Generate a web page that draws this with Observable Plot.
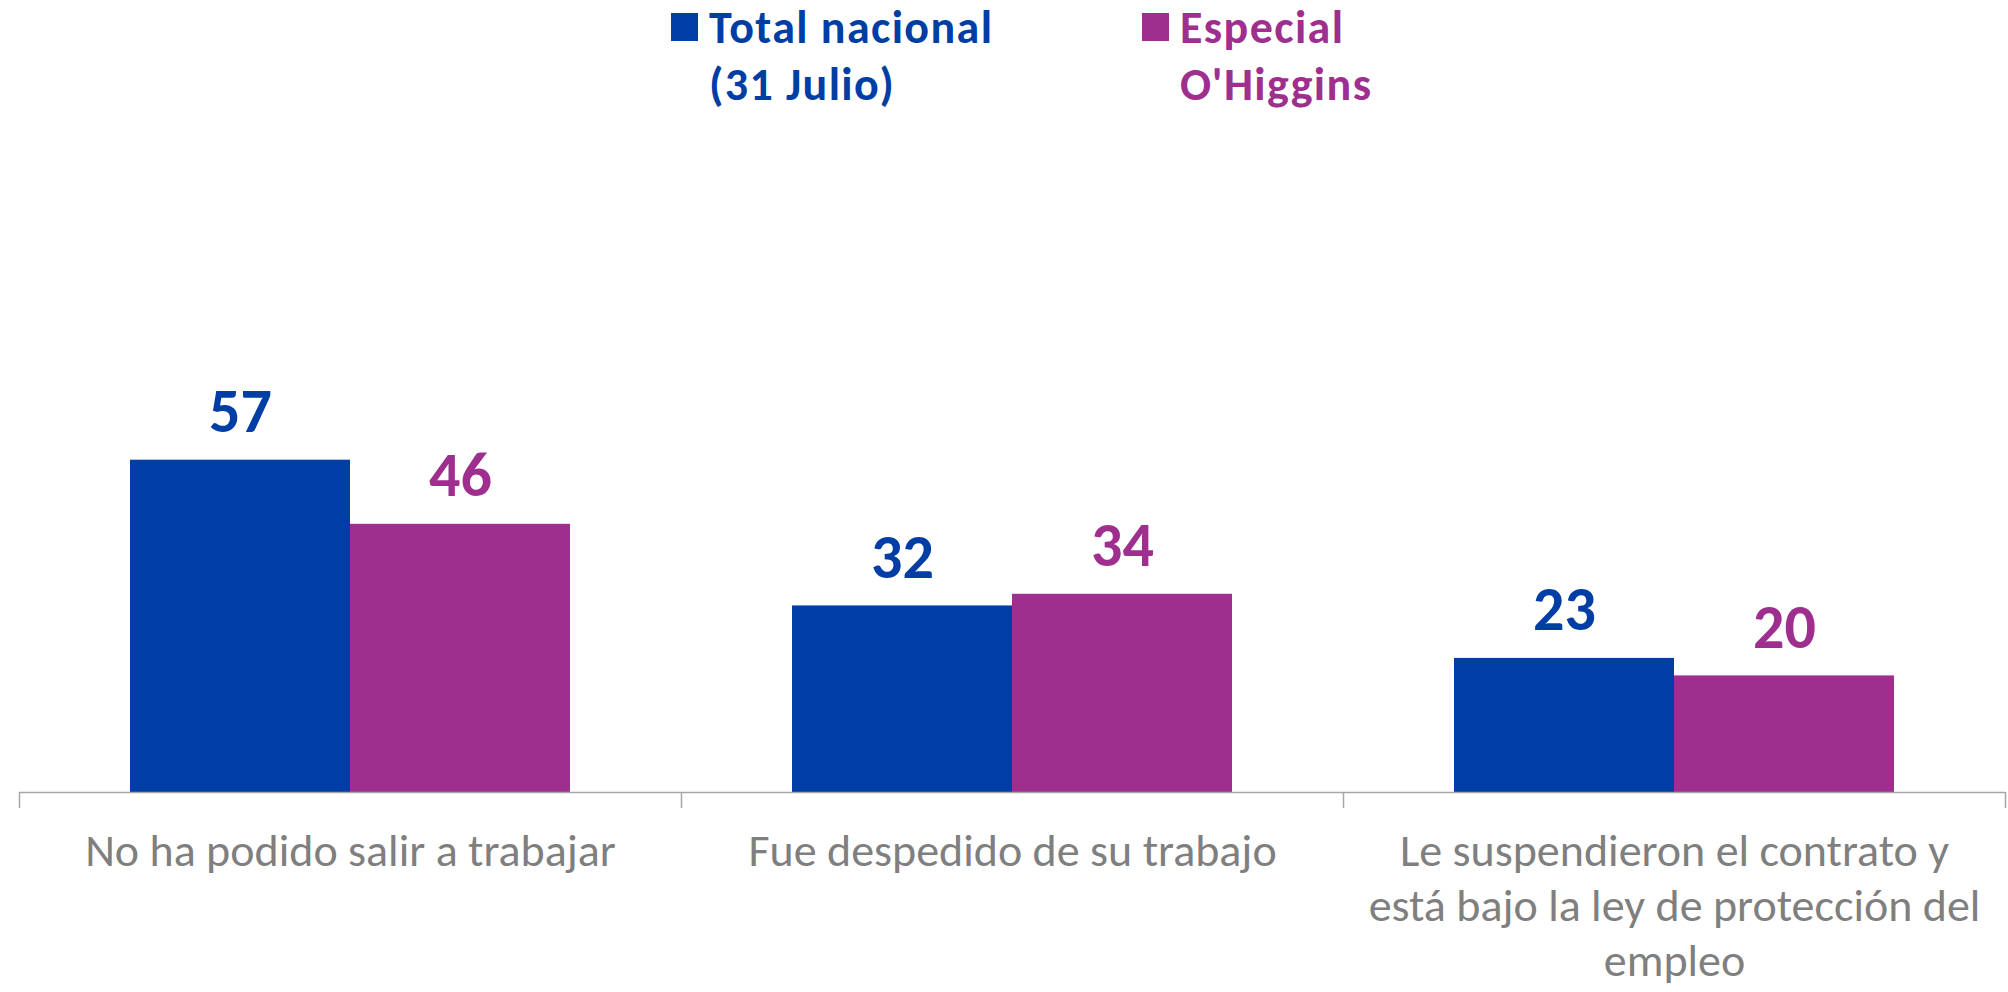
<!DOCTYPE html>
<html>
<head>
<meta charset="utf-8">
<script src="https://cdn.jsdelivr.net/npm/d3@7"></script>
<script src="https://cdn.jsdelivr.net/npm/@observablehq/plot@0.6"></script>
<style>
  html, body { margin: 0; padding: 0; background: #ffffff; overflow: hidden; }
  body { font-family: Carlito, Calibri, Lato, sans-serif; width: 2008px; }
  #legend { position: relative; height: 115px; }
  .item { position: absolute; top: -1px; font-weight: 700; font-size: 46px; line-height: 57px; letter-spacing: 1.4px; white-space: nowrap; }
  .sw { position: absolute; width: 27px; height: 28px; top: 13px; }
  #chart svg { display: block; }
</style>
</head>
<body>
<div id="legend"></div>
<div id="chart"></div>
<script>
// ---- data ----
const categories = [
  "No ha podido salir a trabajar",
  "Fue despedido de su trabajo",
  "Le suspendieron el contrato y está bajo la ley de protección del empleo"
];
const categoryLabels = [
  "No ha podido salir a trabajar",
  "Fue despedido de su trabajo",
  "Le suspendieron el contrato y\nestá bajo la ley de protección del\nempleo"
];
const seriesNames = ["Total nacional (31 Julio)", "Especial O'Higgins"];
const legendLines = [["Total nacional", "(31 Julio)"], ["Especial", "O'Higgins"]];
const totalNacional = [57, 32, 23];
const especialOHiggins = [46, 34, 20];
const seriesColors = ["#003DA5", "#9F2F8E"];

// ---- table ----
const seriesValues = [totalNacional, especialOHiggins];
const data = categories.flatMap((c, i) =>
  seriesNames.map((s, j) => ({category: c, series: s, value: seriesValues[j][i]}))
);

// ---- legend ----
const legend = document.getElementById("legend");
const legendLeft = [671, 1142];
legendLines.forEach((lines, j) => {
  const sw = document.createElement("div");
  sw.className = "sw";
  sw.style.left = legendLeft[j] + "px";
  sw.style.background = seriesColors[j];
  legend.appendChild(sw);
  const it = document.createElement("div");
  it.className = "item";
  it.style.left = (legendLeft[j] + 38) + "px";
  it.style.color = seriesColors[j];
  it.innerHTML = lines.join("<br>");
  legend.appendChild(it);
});

// ---- chart ----
const W = 2008, H = 877, mL = 19, mR = 3;
const facetW = (W - mL - mR) / categories.length;
const axisColor = "#a6a6a6";
const font = "Carlito, Calibri, Lato, sans-serif";

const chart = Plot.plot({
  width: W,
  height: H,
  marginLeft: mL,
  marginRight: mR,
  marginTop: 94,
  marginBottom: 200,
  style: {fontFamily: font, background: "#ffffff"},
  fx: {domain: categories, padding: 0, label: null},
  x: {domain: seriesNames, paddingInner: 0, paddingOuter: 0.5, axis: null},
  y: {domain: [0, 100], axis: null},
  color: {domain: seriesNames, range: seriesColors},
  marks: [
    Plot.barY(data, {fx: "category", x: "series", y: "value", fill: "series"}),
    Plot.text(data, {
      fx: "category", x: "series", y: "value",
      text: d => String(d.value),
      fill: "series", dy: -48, fontSize: 62, fontWeight: "bold", lineAnchor: "middle"
    }),
    Plot.ruleY([0], {stroke: axisColor, strokeWidth: 1.5}),
    Plot.axisFx({anchor: "bottom", tickSize: 16, dx: -facetW / 2, tickFormat: () => "", stroke: axisColor, strokeWidth: 1.5, strokeOpacity: 1, label: null}),
    Plot.axisFx({anchor: "bottom", ticks: [categories[categories.length - 1]], tickSize: 16, dx: facetW / 2, tickFormat: () => "", stroke: axisColor, strokeWidth: 1.5, strokeOpacity: 1, label: null}),
    Plot.axisFx({
      anchor: "bottom",
      tickSize: 0, tickPadding: 34,
      tickFormat: d => categoryLabels[categories.indexOf(d)],
      fontSize: 46, lineHeight: 1.2, fill: "#7f7f7f", label: null
    })
  ]
});
document.getElementById("chart").appendChild(chart);
</script>
</body>
</html>
